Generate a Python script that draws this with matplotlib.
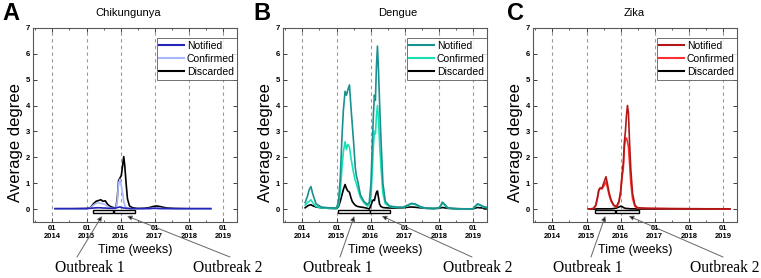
import matplotlib.pyplot as plt
from matplotlib.patches import Rectangle

plt.rcParams["font.family"] = ["Liberation Sans", "DejaVu Sans"]

# Chikungunya (years as decimal, weekly average degree)
chik_t = [2014.08, 2014.6, 2015.0, 2015.12, 2015.2, 2015.28, 2015.35, 2015.42,
          2015.48, 2015.55, 2015.62, 2015.7, 2015.8, 2015.86, 2015.9, 2015.94,
          2015.98, 2016.02, 2016.06, 2016.09, 2016.12, 2016.16, 2016.2, 2016.26,
          2016.35, 2016.5, 2016.7, 2016.85, 2016.95, 2017.05, 2017.15, 2017.25,
          2017.35, 2017.6, 2018.0, 2018.64]
chik_notified = [0.02, 0.02, 0.02, 0.03, 0.04, 0.05, 0.05, 0.05, 0.04, 0.04, 0.03,
                 0.03, 0.03, 0.04, 0.06, 0.07, 0.08, 0.06, 0.05, 0.04, 0.04, 0.03,
                 0.03, 0.02, 0.02, 0.02, 0.02, 0.02, 0.03, 0.03, 0.02, 0.02, 0.02,
                 0.02, 0.02, 0.02]
chik_confirmed = [0.0, 0.0, 0.01, 0.05, 0.15, 0.22, 0.25, 0.22, 0.2, 0.18, 0.1,
                  0.04, 0.02, 0.03, 0.3, 1.0, 1.15, 0.9, 0.6, 0.3, 0.15, 0.06,
                  0.03, 0.02, 0.01, 0.01, 0.01, 0.02, 0.03, 0.03, 0.02, 0.02,
                  0.01, 0.01, 0.0, 0.0]
chik_discarded = [0.0, 0.01, 0.02, 0.06, 0.2, 0.3, 0.33, 0.36, 0.3, 0.32, 0.18,
                  0.1, 0.05, 0.05, 0.4, 1.1, 1.2, 1.3, 1.7, 2.03, 1.7, 1.0, 0.4,
                  0.12, 0.05, 0.02, 0.03, 0.06, 0.1, 0.12, 0.1, 0.07, 0.04, 0.02,
                  0.01, 0.01]

# Dengue
dengue_t = [2014.08, 2014.15, 2014.2, 2014.25, 2014.3, 2014.4, 2014.55, 2014.75,
            2015.0, 2015.06, 2015.11, 2015.16, 2015.2, 2015.25, 2015.29, 2015.33,
            2015.38, 2015.42, 2015.46, 2015.5, 2015.55, 2015.58, 2015.62, 2015.7,
            2015.8, 2015.9, 2015.96, 2016.01, 2016.05, 2016.08, 2016.11, 2016.14,
            2016.17, 2016.2, 2016.23, 2016.26, 2016.3, 2016.36, 2016.43, 2016.55,
            2016.75, 2016.95, 2017.08, 2017.2, 2017.3, 2017.45, 2017.6, 2017.85,
            2018.0, 2018.06, 2018.1, 2018.16, 2018.25, 2018.4, 2018.7, 2019.0,
            2019.07, 2019.13, 2019.2, 2019.3, 2019.44]
dengue_notified = [0.25, 0.5, 0.75, 0.87, 0.6, 0.2, 0.08, 0.05, 0.04, 0.3, 1.2,
                   2.8, 3.8, 4.55, 4.4, 4.6, 4.8, 4.0, 3.3, 2.6, 1.6, 1.3, 1.1,
                   0.55, 0.3, 0.18, 0.25, 1.0, 2.5, 3.6, 4.4, 4.2, 5.5, 6.3, 5.4,
                   4.2, 2.8, 1.0, 0.3, 0.12, 0.08, 0.07, 0.15, 0.22, 0.2, 0.1,
                   0.04, 0.02, 0.05, 0.15, 0.27, 0.2, 0.06, 0.02, 0.0, 0.01, 0.12,
                   0.2, 0.17, 0.1, 0.05]
dengue_confirmed = [0.15, 0.25, 0.3, 0.36, 0.25, 0.1, 0.05, 0.03, 0.02, 0.15, 0.7,
                    1.6, 2.2, 2.6, 2.3, 2.5, 2.4, 2.0, 1.7, 1.4, 1.1, 1.0, 0.8,
                    0.45, 0.25, 0.12, 0.15, 0.5, 1.5, 2.4, 3.0, 2.9, 3.6, 4.0, 3.5,
                    2.6, 1.7, 0.6, 0.2, 0.1, 0.06, 0.06, 0.13, 0.2, 0.18, 0.08,
                    0.03, 0.02, 0.04, 0.12, 0.22, 0.16, 0.05, 0.02, 0.0, 0.01, 0.1,
                    0.18, 0.15, 0.08, 0.04]
dengue_discarded = [0.05, 0.12, 0.15, 0.17, 0.13, 0.08, 0.05, 0.03, 0.02, 0.1, 0.3,
                    0.55, 0.75, 0.95, 0.8, 0.7, 0.65, 0.45, 0.3, 0.22, 0.15, 0.12,
                    0.1, 0.08, 0.06, 0.03, 0.0, 0.15, 0.3, 0.35, 0.33, 0.5, 0.65,
                    0.7, 0.45, 0.2, 0.1, 0.06, 0.05, 0.04, 0.04, 0.05, 0.07, 0.08,
                    0.07, 0.05, 0.03, 0.02, 0.03, 0.05, 0.06, 0.05, 0.03, 0.02, 0.01,
                    0.01, 0.04, 0.06, 0.05, 0.04, 0.03]

# Zika
zika_t = [2015.06, 2015.2, 2015.27, 2015.32, 2015.36, 2015.4, 2015.45, 2015.49,
          2015.53, 2015.57, 2015.61, 2015.66, 2015.72, 2015.8, 2015.88, 2015.95,
          2016.0, 2016.04, 2016.08, 2016.11, 2016.14, 2016.17, 2016.2, 2016.23,
          2016.26, 2016.3, 2016.35, 2016.42, 2016.5, 2016.8, 2017.5, 2018.5, 2019.2]
zika_notified = [0.0, 0.02, 0.15, 0.45, 0.75, 0.82, 0.8, 0.95, 1.1, 1.25, 1.0,
                 0.65, 0.35, 0.15, 0.1, 0.3, 0.7, 1.3, 1.8, 2.6, 3.0, 3.6, 4.0,
                 3.7, 2.6, 1.5, 0.6, 0.15, 0.05, 0.03, 0.02, 0.01, 0.01]
zika_confirmed = [0.0, 0.02, 0.12, 0.4, 0.7, 0.8, 0.78, 0.85, 0.95, 1.05, 0.85,
                  0.55, 0.3, 0.13, 0.08, 0.25, 0.6, 1.2, 1.6, 2.4, 2.7, 2.75, 2.6,
                  2.4, 1.8, 1.0, 0.4, 0.1, 0.03, 0.02, 0.01, 0.01, 0.0]
zika_discarded = [0.0, 0.0, 0.0, 0.01, 0.01, 0.01, 0.01, 0.01, 0.01, 0.01, 0.01,
                  0.01, 0.01, 0.02, 0.04, 0.08, 0.11, 0.1, 0.06, 0.04, 0.03, 0.02,
                  0.02, 0.02, 0.01, 0.01, 0.01, 0.01, 0.0, 0.0, 0.0, 0.0, 0.0]

# outbreak windows (start, end) per disease
chik_outbreaks = [(2015.19, 2015.79), (2015.81, 2016.43)]
dengue_outbreaks = [(2015.03, 2015.97), (2015.99, 2016.58)]
zika_outbreaks = [(2015.25, 2015.84), (2015.86, 2016.53)]

years = [2014, 2015, 2016, 2017, 2018, 2019]
year_labels = [f"01\n{y}" for y in years]
series_labels = ["Notified", "Confirmed", "Discarded"]

panels = [
    ("A", "Chikungunya", chik_t, [chik_notified, chik_confirmed, chik_discarded],
     ["#2626b8", "#a9b8ff", "black"], chik_outbreaks),
    ("B", "Dengue", dengue_t, [dengue_notified, dengue_confirmed, dengue_discarded],
     ["#1a9090", "#19e0b4", "black"], dengue_outbreaks),
    ("C", "Zika", zika_t, [zika_notified, zika_confirmed, zika_discarded],
     ["#b01818", "#ff3030", "black"], zika_outbreaks),
]

W, H = 761, 278
fig = plt.figure(figsize=(W / 100, H / 100), dpi=100)

ax_left = [33.3, 283.3, 533.3]
ax_w, ax_top, ax_bot = 204, 28, 222
title_x = [128, 398, 634]
letter_x = [2, 253, 507]
# arrow tips (data x) and tails (pixel x from left)
tips = [(2015.45, 2016.19), (2015.52, 2016.33), (2015.55, 2016.24)]
tails = [(77, 230), (340, 472), (591, 723)]
text_x = [(90, 228), (338, 478), (588, 725)]

for i, (letter, name, t, ys, colors, outbreaks) in enumerate(panels):
    ax = fig.add_axes([ax_left[i] / W, 1 - ax_bot / H, ax_w / W, (ax_bot - ax_top) / H])

    for y, c, lab in zip(ys[::-1], colors[::-1], series_labels[::-1]):
        ax.plot(t, y, color=c, lw=1.2, label=lab)

    for start, end in outbreaks:
        ax.add_patch(Rectangle((start, -0.17), end - start, 0.13,
                               facecolor="white", edgecolor="black", lw=1.0, zorder=5))

    ax.set_xlim(2013.44, 2019.42)
    ax.set_ylim(-0.5, 7)
    ax.set_xticks(years)
    ax.set_xticklabels(year_labels, fontsize=5.5, fontweight="bold", linespacing=1.1)
    ax.set_xticks([y + 0.5 for y in years[:-1]] + [2013.5], minor=True)
    ax.set_yticks(range(8))
    ax.set_yticklabels([str(v) for v in range(8)], fontsize=5.5, fontweight="bold")
    ax.tick_params(direction="in", top=True, right=True, length=3, width=0.7,
                   colors="0.25", pad=2.5)
    ax.tick_params(which="minor", direction="in", top=True, length=1.5, width=0.6,
                   colors="0.25")
    for tl in ax.get_xticklabels() + ax.get_yticklabels():
        tl.set_color("black")
    for s in ax.spines.values():
        s.set_color("0.35")
        s.set_linewidth(0.8)
    ax.grid(axis="x", which="major", color="0.6", linestyle=(0, (3, 3)), lw=0.8)

    ax.set_ylabel("Average degree", fontsize=12)
    ax.yaxis.set_label_coords(-0.05, 0.41)
    ax.set_xlabel("Time (weeks)", fontsize=9)
    ax.xaxis.set_label_coords(0.5, -0.115)

    handles, labels = ax.get_legend_handles_labels()
    leg = ax.legend(handles[::-1], labels[::-1], loc="upper right",
                    bbox_to_anchor=(1.0, 0.948), borderaxespad=0, fontsize=7.5,
                    fancybox=False, edgecolor="0.3", handlelength=2.4,
                    handletextpad=0.25, labelspacing=0.3, borderpad=0.25)
    leg.get_frame().set_linewidth(0.7)
    for ln in leg.get_lines():
        ln.set_linewidth(1.5)

    fig.text(title_x[i] / W, 1 - 13 / H, name, fontsize=8, ha="center", va="center")
    fig.text(letter_x[i] / W, 1 - 2 / H, letter, fontsize=17, fontweight="bold",
             ha="left", va="top")

    for k in range(2):
        ax.annotate("", xy=(tips[i][k], -0.27), xycoords="data",
                    xytext=(tails[i][k], H - 257), textcoords="figure pixels",
                    arrowprops=dict(arrowstyle="-|>", mutation_scale=7, lw=0.7,
                                    ec="0.4", fc="black", shrinkA=0, shrinkB=0),
                    annotation_clip=False)
        fig.text(text_x[i][k] / W, 1 - 268 / H, f"Outbreak {k + 1}",
                 family=["Liberation Serif", "DejaVu Serif"], fontsize=11.2,
                 ha="center", va="center")

plt.savefig("out.png", dpi=100)
